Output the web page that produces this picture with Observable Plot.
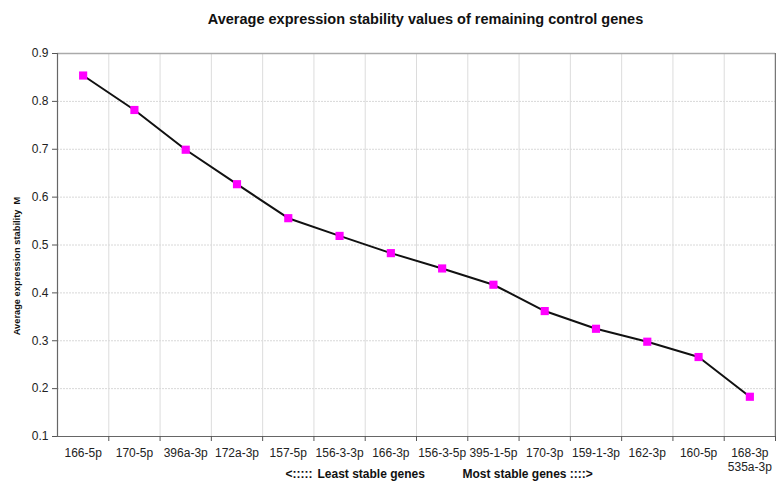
<!DOCTYPE html>
<html><head><meta charset="utf-8">
<script src="https://cdn.jsdelivr.net/npm/d3@7"></script>
<script src="https://cdn.jsdelivr.net/npm/@observablehq/plot@0.6"></script>
<style>
body{margin:0;background:#fff;font-family:"Liberation Sans",Arial,sans-serif}
</style>
</head><body><div id="chart"></div>
<script>
const genes = ["166-5p","170-5p","396a-3p","172a-3p","157-5p","156-3-3p","166-3p","156-3-5p","395-1-5p","170-3p","159-1-3p","162-3p","160-5p","168-3p\n535a-3p"];
const stability = [0.854,0.782,0.699,0.627,0.556,0.519,0.483,0.451,0.417,0.362,0.325,0.298,0.266,0.183];
const yTicks = [0.1,0.2,0.3,0.4,0.5,0.6,0.7,0.8,0.9];
const title = "Average expression stability values of remaining control genes";
const yLabel = "Average expression stability  M";
const noteArrowLeft = "<:::::";
const noteLeft = "Least stable genes";
const noteRight = "Most stable genes ::::>";

const data = genes.map((g, i) => ({i, g, m: stability[i]}));
const idx = d3.range(genes.length);
const bounds = d3.range(genes.length + 1).map(i => i - 0.5);

const chart = Plot.plot({
  width: 776, height: 486,
  marginLeft: 57, marginRight: 1, marginTop: 53, marginBottom: 50,
  style: {fontFamily: "'Liberation Sans', Arial, sans-serif", fontSize: "12px", color: "#111", background: "#fff"},
  x: {type: "linear", domain: [-0.5, genes.length - 0.5]},
  y: {domain: [0.1, 0.9]},
  marks: [
    Plot.ruleY(yTicks.slice(1), {stroke: "#d8d8d8", strokeDasharray: "2,1"}),
    Plot.ruleX(bounds.slice(1, -1), {stroke: "#dcdcdc"}),
    Plot.ruleY([0.9], {stroke: "#aaa", strokeWidth: 1.5}),
    Plot.ruleX([genes.length - 0.5], {stroke: "#777", strokeWidth: 1.5}),
    Plot.axisY({ticks: yTicks, tickFormat: d => d.toFixed(1), tickSize: 5, tickPadding: 4, stroke: "#555", fill: "#222", fontSize: 12, label: null}),
    Plot.ruleX([-0.5], {stroke: "#666", strokeWidth: 1.2}),
    Plot.ruleY([0.1], {stroke: "#666", strokeWidth: 1.2}),
    Plot.axisX({ticks: bounds.slice(1), tickFormat: () => "", tickSize: 5, stroke: "#555", label: null}),
    Plot.axisX({ticks: idx, tickFormat: i => genes[i], tickSize: 0, tickPadding: 10, fill: "#222", fontSize: 12, label: null, lineHeight: 1.2}),
    Plot.line(data, {x: "i", y: "m", stroke: "#111", strokeWidth: 2}),
    Plot.dot(data, {x: "i", y: "m", symbol: "square", r: 4.6, fill: "#ff00ff", stroke: "none"}),
    Plot.text([title], {frameAnchor: "top", dy: -40, dx: 9, fontWeight: "bold", fontSize: 14.5, fill: "#111"}),
    Plot.text([yLabel], {frameAnchor: "left", textAnchor: "middle", dx: -40, dy: 21, rotate: -90, fontWeight: "bold", fontSize: 9.3, fill: "#111"}),
    Plot.text([noteArrowLeft], {frameAnchor: "bottom-left", dx: 228, dy: 41, textAnchor: "start", fontWeight: "bold", fontSize: 12, fill: "#111"}),
    Plot.text([noteLeft], {frameAnchor: "bottom-left", dx: 260, dy: 41, textAnchor: "start", fontWeight: "bold", fontSize: 12, fill: "#111"}),
    Plot.text([noteRight], {frameAnchor: "bottom-left", dx: 405, dy: 41, textAnchor: "start", fontWeight: "bold", fontSize: 12, fill: "#111"})
  ]
});
document.getElementById("chart").appendChild(chart);
</script>
</body></html>
